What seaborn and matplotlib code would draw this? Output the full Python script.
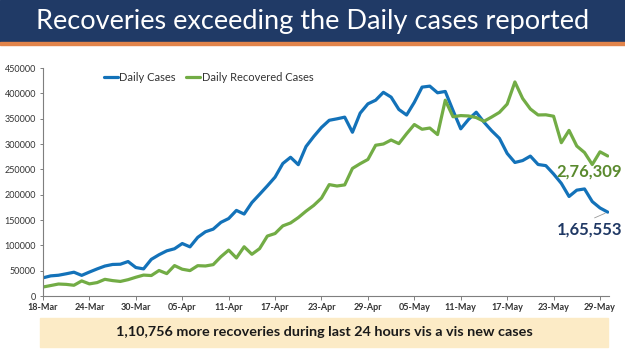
# Recoveries vs daily cases chart

import pandas as pd
import seaborn as sns
import matplotlib.pyplot as plt
import matplotlib.dates as mdates
from matplotlib.patches import Rectangle

# Data (18-Mar to 30-May)
dates = pd.date_range("2021-03-18", "2021-05-30", freq="D")
daily_cases = [35871, 39726, 40953, 43846, 46951, 40715, 47262, 53476, 59118, 62258,
               62714, 68020, 56211, 53480, 72330, 81466, 89129, 93249, 103558, 96982,
               115736, 126789, 131968, 145384, 152879, 168912, 161736, 184372, 200739, 217353,
               234692, 261500, 273810, 259170, 295041, 314835, 332730, 346786, 349691, 352991,
               323144, 360960, 379257, 386452, 401993, 392488, 368147, 357229, 382315, 412262,
               414188, 401078, 403738, 366161, 329942, 348421, 362727, 343144, 326098, 311170,
               281386, 263533, 267334, 276110, 259551, 257299, 240842, 222315, 196427, 208921,
               211298, 186364, 173790, 165553]
recovered = [17741, 20654, 23653, 22956, 21180, 29785, 23907, 26490, 32912, 30386,
             28739, 32231, 37028, 41280, 40382, 50356, 44202, 60048, 52847, 50143,
             59856, 59258, 61899, 77567, 90584, 75086, 97168, 82339, 93528, 118302,
             123354, 138423, 144178, 154761, 167457, 178841, 193279, 219838, 217113, 219272,
             251827, 261162, 269507, 297540, 299988, 307865, 300732, 320289, 338439, 329113,
             331507, 318609, 386444, 353818, 356082, 355338, 352181, 344776, 353299, 362437,
             378741, 422436, 389851, 369077, 357295, 357630, 354825, 302544, 326850, 295955,
             283135, 259459, 284601, 276309]
series_names = ["Daily Cases", "Daily Recovered Cases"]
title = "Recoveries exceeding the Daily cases reported"
banner = "1,10,756 more recoveries during last 24 hours vis a vis new cases"

df = pd.DataFrame({"date": dates, series_names[0]: daily_cases, series_names[1]: recovered})
long = df.melt(id_vars="date", var_name="series", value_name="count")

blue = "#1372B9"
green = "#72AC45"
navy = "#1F3864"

sns.set_style("white")
plt.rcParams["font.family"] = ["Lato", "DejaVu Sans"]

fig = plt.figure(figsize=(6.25, 3.51), dpi=100)

# title bar
fig.patches.append(Rectangle((0, 1 - 42 / 351), 1, 42 / 351, transform=fig.transFigure,
                             color="#203A66", zorder=0))
fig.patches.append(Rectangle((0, 1 - 44.5 / 351), 1, 2.5 / 351, transform=fig.transFigure,
                             color="#E2844A", zorder=0))
fig.text(0.5, 1 - 21 / 351, title, color="white", fontsize=19.5, ha="center", va="center")

# bottom banner
fig.patches.append(Rectangle((40 / 625, 4 / 351), 568 / 625, 29 / 351, transform=fig.transFigure,
                             color="#FCEBC6", zorder=0))
fig.text(324 / 625, 18.5 / 351, banner, color="#1a1a1a", fontsize=10.4, fontweight="bold",
         ha="center", va="center")

ax = fig.add_axes([43 / 625, 55 / 351, 565.7 / 625, 228 / 351])
sns.lineplot(data=long, x="date", y="count", hue="series", palette=[blue, green],
             linewidth=2.3, ax=ax, legend=False)

ax.set_xlim(pd.Timestamp("2021-03-18"), pd.Timestamp("2021-05-30 03:00"))
ax.set_ylim(0, 450000)
ax.set_yticks(range(0, 450001, 50000))
ax.set_xticks(dates[::6])
ax.xaxis.set_major_formatter(mdates.DateFormatter("%d-%b"))
ax.set_xlabel("")
ax.set_ylabel("")
ax.tick_params(axis="x", labelsize=6.5, length=3, width=0.7, color="#7f7f7f",
               labelcolor="#333333", pad=2)
ax.tick_params(axis="y", labelsize=6.5, length=2, width=0.7, color="#7f7f7f",
               labelcolor="#333333", pad=3)
ax.tick_params(bottom=True, left=True)
for lbl in ax.get_xticklabels():
    lbl.set_fontweight("bold")
sns.despine(ax=ax)
for s in ["left", "bottom"]:
    ax.spines[s].set_color("#7f7f7f")
    ax.spines[s].set_linewidth(0.8)

# legend
handles = [plt.Line2D([], [], color=blue, lw=2.3), plt.Line2D([], [], color=green, lw=2.3)]
ax.legend(handles, series_names, loc="upper left", bbox_to_anchor=(0.09, 1.025), ncol=2,
          frameon=False, fontsize=8, handlelength=1.3, handletextpad=0.1,
          columnspacing=0.9, labelcolor="#333333")

# end value labels
ax.annotate("2,76,309", xy=(dates[-1], recovered[-1]), xytext=(622, 179),
            textcoords="figure pixels", ha="right", va="center", fontsize=12,
            fontweight="bold", color="#5A8A2E")
ax.annotate("1,65,553", xy=(dates[-1], daily_cases[-1]), xytext=(622, 121),
            textcoords="figure pixels", ha="right", va="center", fontsize=12,
            fontweight="bold", color=navy, annotation_clip=False)
ax.annotate("", xy=(dates[-1], daily_cases[-1]), xytext=(592, 132),
            textcoords="figure pixels",
            arrowprops=dict(arrowstyle="-", color="#999999", lw=0.6))

fig.savefig("out.png", dpi=100)
